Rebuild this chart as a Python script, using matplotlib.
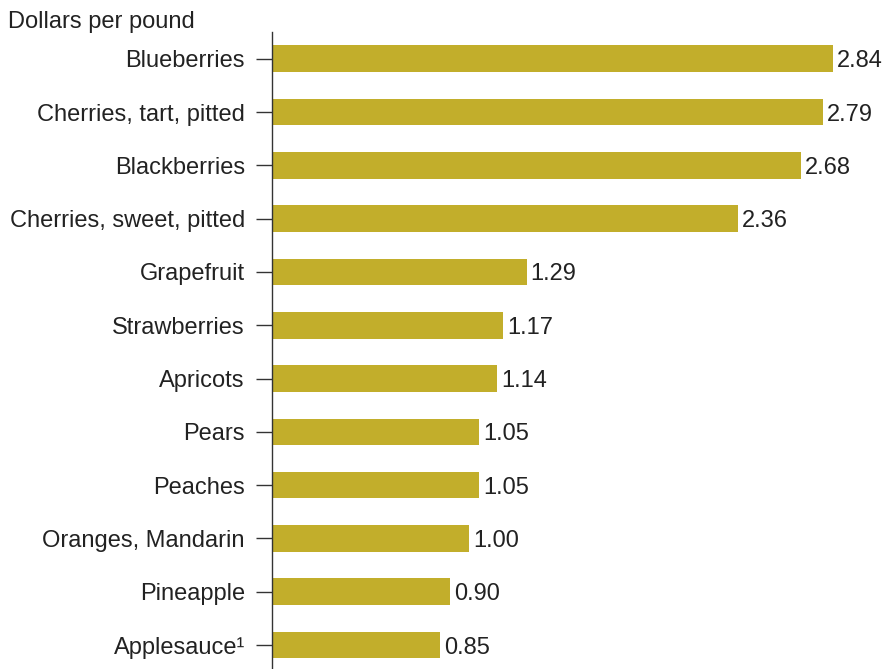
"""Horizontal bar chart of fruit prices, dollars per pound."""

import matplotlib
matplotlib.use('Agg')
import matplotlib.pyplot as plt

fruits = ['Blueberries', 'Cherries, tart, pitted', 'Blackberries',
          'Cherries, sweet, pitted', 'Grapefruit', 'Strawberries', 'Apricots',
          'Pears', 'Peaches', 'Oranges, Mandarin', 'Pineapple', 'Applesauce\u00b9']
prices = [2.84, 2.79, 2.68, 2.36, 1.29, 1.17, 1.14, 1.05, 1.05, 1.00, 0.90, 0.85]
price_labels = ['2.84', '2.79', '2.68', '2.36', '1.29', '1.17', '1.14',
                '1.05', '1.05', '1.00', '0.90', '0.85']

FS = 17


def main():
    plt.rcParams['font.family'] = ['Liberation Sans', 'DejaVu Sans']

    fig = plt.figure(figsize=(8.86, 6.69), dpi=100)
    ax = fig.add_axes([0.307, 0.0, 0.693, 0.952])

    pos = list(range(len(fruits)))
    ax.barh(pos, prices, height=0.5, color='#c2ae2b')

    # value labels just past the bar ends
    for y, v, s in zip(pos, prices, price_labels):
        ax.text(v + 0.02, y, s, va='center_baseline', ha='left', fontsize=FS,
                color='#222222')

    ax.set_xlim(0, 3.11)
    ax.set_ylim(11.45, -0.5)

    ax.set_yticks(pos)
    ax.set_yticklabels(fruits, fontsize=FS, color='#222222')
    ax.tick_params(axis='y', length=11.5, width=1, color='#333333', pad=8)
    ax.set_xticks([])

    for side in ('top', 'right', 'bottom'):
        ax.spines[side].set_visible(False)
    ax.spines['left'].set_color('#333333')
    ax.spines['left'].set_linewidth(1)

    fig.text(0.009, 0.967, 'Dollars per pound', fontsize=FS, color='#222222',
             ha='left', va='center')

    fig.savefig('out.png', dpi=100)


if __name__ == "__main__":
    main()
